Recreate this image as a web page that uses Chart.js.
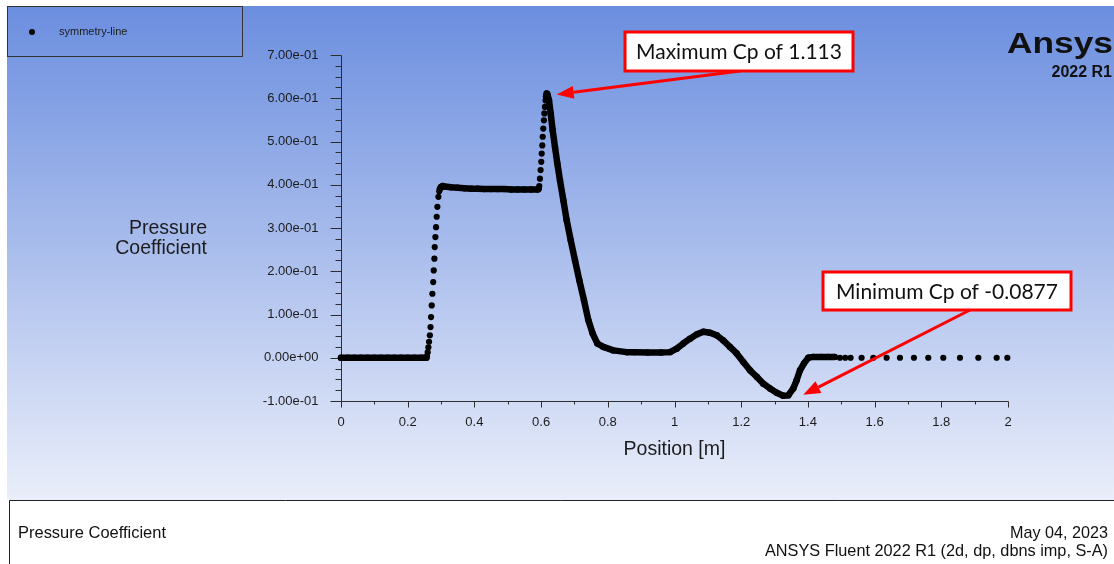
<!DOCTYPE html>
<html>
<head>
<meta charset="utf-8">
<title>Pressure Coefficient</title>
<script src="https://cdn.jsdelivr.net/npm/chart.js@4.4.1/dist/chart.umd.min.js"></script>
<style>
  html, body { margin: 0; padding: 0; background: #fff; }
  #graph { display: block; }
</style>
</head>
<body>
<canvas id="graph" width="1114" height="564"></canvas>
<script>
const ctx = document.getElementById('graph');

// symmetry-line samples: position [m] and Cp
// dense stretches (drawn as a thick run of dots)
const upstreamX = [0, 0.02, 0.04, 0.06, 0.08, 0.10, 0.12, 0.14, 0.16, 0.18, 0.20, 0.22, 0.24, 0.25, 0.256];
const upstreamCp = [0, 0, 0, 0, 0, 0, 0, 0, 0, 0, 0, 0, 0, 0, 0];

const plateauX = [0.297, 0.300, 0.305, 0.31, 0.33, 0.35, 0.37, 0.39, 0.41, 0.43, 0.45, 0.47, 0.49, 0.51, 0.53, 0.55, 0.57, 0.59, 0.5925];
const plateauCp = [0.391, 0.395, 0.397, 0.396, 0.394, 0.393, 0.392, 0.391, 0.391, 0.390, 0.390, 0.390, 0.390, 0.389, 0.389, 0.389, 0.389, 0.389, 0.391];

const wakeX = [0.6150, 0.6168, 0.6190, 0.6237, 0.6287, 0.6347, 0.6417, 0.6487, 0.6567, 0.6667, 0.6767, 0.6887,
  0.7017, 0.7147, 0.7286, 0.7416, 0.7546, 0.7686, 0.7866, 0.8166, 0.8566, 0.88, 0.92, 0.96, 0.9865,
  1.0066, 1.0265, 1.0465, 1.0665, 1.0865, 1.1064, 1.1265, 1.1465, 1.1664, 1.1865, 1.2064, 1.2264,
  1.2465, 1.2664, 1.2864, 1.3064, 1.3262, 1.3412, 1.3562, 1.3662, 1.3763, 1.3883, 1.4012, 1.4162,
  1.44, 1.46, 1.48];
const wakeCp = [0.604, 0.611, 0.609, 0.595, 0.565, 0.526, 0.487, 0.449, 0.410, 0.364, 0.318, 0.272,
  0.225, 0.179, 0.133, 0.087, 0.056, 0.033, 0.025, 0.017, 0.013, 0.013, 0.012, 0.012, 0.013,
  0.021, 0.033, 0.044, 0.054, 0.060, 0.058, 0.052, 0.040, 0.025, 0.010, -0.010, -0.029,
  -0.044, -0.060, -0.071, -0.081, -0.088, -0.087, -0.071, -0.052, -0.029, -0.013, 0.000, 0.002,
  0.002, 0.002, 0.002];

// sparse stretches (separate dots): the two steep rises and the coarse outlet cells
const riseX = [0.258, 0.260, 0.262, 0.264, 0.2665, 0.2685, 0.270, 0.272, 0.274, 0.2765, 0.278, 0.280, 0.281,
  0.283, 0.285, 0.287, 0.289, 0.292, 0.2945,
  0.5945, 0.5965, 0.5985, 0.6005, 0.6018, 0.6035, 0.6048, 0.6065, 0.6085, 0.6098, 0.6115, 0.6135];
const riseCp = [0.004, 0.013, 0.024, 0.037, 0.052, 0.071, 0.094, 0.121, 0.148, 0.175, 0.202, 0.229, 0.256,
  0.279, 0.302, 0.326, 0.349, 0.372, 0.385,
  0.397, 0.414, 0.434, 0.453, 0.472, 0.491, 0.511, 0.530, 0.549, 0.565, 0.580, 0.595];

const tailX = [1.496, 1.512, 1.528, 1.561, 1.596, 1.636, 1.676, 1.718, 1.761, 1.806, 1.856, 1.911, 1.966, 1.998];
const tailCp = [0, 0, 0, 0, 0, 0, 0, 0, 0, 0, 0, 0, 0, 0];

const xTickValues = [0, 0.2, 0.4, 0.6, 0.8, 1, 1.2, 1.4, 1.6, 1.8, 2];
const xTickLabels = ['0', '0.2', '0.4', '0.6', '0.8', '1', '1.2', '1.4', '1.6', '1.8', '2'];
const yTickValues = [-0.1, 0, 0.1, 0.2, 0.3, 0.4, 0.5, 0.6, 0.7];
const yTickLabels = ['-1.00e-01', '0.00e+00', '1.00e-01', '2.00e-01', '3.00e-01', '4.00e-01', '5.00e-01', '6.00e-01', '7.00e-01'];

const FONT = '"Liberation Sans", Arial, sans-serif';
const INK = '#1c1c1c';

function toXY(xs, ys) {
  return xs.map((x, i) => ({ x: x, y: ys[i] }));
}

function crisp(v) {
  return Math.round(v) + 0.5;
}

function denseRun(xs, ys) {
  return {
    data: toXY(xs, ys),
    showLine: true,
    borderColor: '#000',
    borderWidth: 6.5,
    borderCapStyle: 'round',
    borderJoinStyle: 'round',
    pointRadius: 3.2,
    pointBackgroundColor: '#000',
    pointBorderWidth: 0,
    clip: false
  };
}

function sparseDots(xs, ys) {
  return {
    data: toXY(xs, ys),
    showLine: false,
    pointRadius: 3.1,
    pointBackgroundColor: '#000',
    pointBorderWidth: 0,
    clip: false
  };
}

function drawArrow(c, x0, y0, x1, y1) {
  const a = Math.atan2(y1 - y0, x1 - x0);
  const len = 17, half = 6.5;
  const bx = x1 - len * Math.cos(a), by = y1 - len * Math.sin(a);
  c.strokeStyle = '#ff0000';
  c.fillStyle = '#ff0000';
  c.lineWidth = 3;
  c.beginPath();
  c.moveTo(x0, y0);
  c.lineTo(bx, by);
  c.stroke();
  c.beginPath();
  c.moveTo(x1, y1);
  c.lineTo(bx + half * Math.sin(a), by - half * Math.cos(a));
  c.lineTo(bx - half * Math.sin(a), by + half * Math.cos(a));
  c.closePath();
  c.fill();
}

function callout(c, x, y, w, h, text) {
  c.fillStyle = '#fff';
  c.fillRect(x, y, w, h);
  c.strokeStyle = '#ff0000';
  c.lineWidth = 3;
  c.strokeRect(x, y, w, h);
  c.fillStyle = '#111';
  c.font = '21px Lato, "Open Sans", sans-serif';
  c.textAlign = 'center';
  c.textBaseline = 'middle';
  c.fillText(text, x + w / 2, y + h / 2 + 1, w - 20);
}

const fluentFrame = {
  id: 'fluentFrame',
  beforeDraw(chart) {
    const c = chart.ctx;
    c.save();
    c.fillStyle = '#fff';
    c.fillRect(0, 0, chart.width, chart.height);
    const g = c.createLinearGradient(0, 6, 0, 500);
    g.addColorStop(0, '#6b8edf');
    g.addColorStop(1, '#eaeefa');
    c.fillStyle = g;
    c.fillRect(7, 6, chart.width - 7, 494);
    c.restore();
  },
  beforeDatasetsDraw(chart) {
    const c = chart.ctx;
    const xs = chart.scales.x, ys = chart.scales.y;
    const left = crisp(xs.getPixelForValue(xTickValues[0]));
    const right = crisp(xs.getPixelForValue(xTickValues[xTickValues.length - 1]));
    const bottom = crisp(ys.getPixelForValue(yTickValues[0]));
    const top = crisp(ys.getPixelForValue(yTickValues[yTickValues.length - 1]));
    c.save();
    c.strokeStyle = '#2e2e2e';
    c.lineWidth = 1;
    c.beginPath();
    c.moveTo(left, top);
    c.lineTo(left, bottom);
    c.lineTo(right, bottom);
    // y ticks: majors plus three minors in each gap
    yTickValues.forEach((v, i) => {
      const py = crisp(ys.getPixelForValue(v));
      c.moveTo(left - 11, py);
      c.lineTo(left, py);
      if (i < yTickValues.length - 1) {
        const step = (yTickValues[i + 1] - v) / 4;
        for (let k = 1; k < 4; k++) {
          const my = crisp(ys.getPixelForValue(v + step * k));
          c.moveTo(left - 6, my);
          c.lineTo(left, my);
        }
      }
    });
    // x ticks: majors plus one minor in each gap
    xTickValues.forEach((v, i) => {
      const px = crisp(xs.getPixelForValue(v));
      c.moveTo(px, bottom);
      c.lineTo(px, bottom + 6);
      if (i < xTickValues.length - 1) {
        const mx = crisp(xs.getPixelForValue((v + xTickValues[i + 1]) / 2));
        c.moveTo(mx, bottom);
        c.lineTo(mx, bottom + 3);
      }
    });
    c.stroke();

    c.fillStyle = INK;
    c.font = '13px ' + FONT;
    c.textAlign = 'right';
    c.textBaseline = 'middle';
    yTickValues.forEach((v, i) => {
      c.fillText(yTickLabels[i], left - 23, ys.getPixelForValue(v));
    });
    c.textAlign = 'center';
    xTickValues.forEach((v, i) => {
      c.fillText(xTickLabels[i], xs.getPixelForValue(v), bottom + 21);
    });

    c.font = '19.5px ' + FONT;
    c.textAlign = 'right';
    c.fillText('Pressure', 207, 229);
    c.fillText('Coefficient', 207, 249);
    c.textAlign = 'center';
    c.fillText('Position [m]', (xs.left + xs.right) / 2, 450);

    // legend box
    c.strokeStyle = '#333';
    c.strokeRect(7.5, 6.5, 235, 50);
    c.fillStyle = '#000';
    c.beginPath();
    c.arc(32, 32, 3, 0, Math.PI * 2);
    c.fill();
    c.fillStyle = INK;
    c.font = '11px ' + FONT;
    c.textAlign = 'left';
    c.fillText('symmetry-line', 59, 32);
    c.restore();
  },
  afterDraw(chart) {
    const c = chart.ctx;
    const xs = chart.scales.x, ys = chart.scales.y;
    c.save();

    // callouts pointing at the extreme values
    const iMax = wakeCp.indexOf(Math.max(...wakeCp));
    const iMin = wakeCp.indexOf(Math.min(...wakeCp));
    const maxPx = xs.getPixelForValue(wakeX[iMax]), maxPy = ys.getPixelForValue(wakeCp[iMax]);
    const minPx = xs.getPixelForValue(wakeX[iMin]), minPy = ys.getPixelForValue(wakeCp[iMin]);
    drawArrow(c, 740, 71, maxPx + 10, maxPy + 1);
    drawArrow(c, 970, 310, minPx + 20, minPy - 1);
    callout(c, 625, 32, 228, 39, 'Maximum Cp of 1.113');
    callout(c, 823, 272, 248, 38, 'Minimum Cp of -0.0877');

    // logo
    c.fillStyle = '#111';
    c.textBaseline = 'alphabetic';
    c.textAlign = 'right';
    c.font = 'bold 29px ' + FONT;
    const w = c.measureText('Ansys').width;
    c.save();
    c.translate(1113, 53);
    c.scale(106 / w, 1);
    c.fillText('Ansys', 0, 0);
    c.restore();
    c.font = 'bold 16px ' + FONT;
    c.fillText('2022 R1', 1112, 77);

    // footer panel
    c.fillStyle = '#fff';
    c.fillRect(9, 500, chart.width - 9, chart.height - 500);
    c.strokeStyle = '#222';
    c.lineWidth = 1;
    c.beginPath();
    c.moveTo(9.5, chart.height);
    c.lineTo(9.5, 500.5);
    c.lineTo(chart.width, 500.5);
    c.stroke();
    c.fillStyle = '#111';
    c.font = '17px ' + FONT;
    c.textBaseline = 'middle';
    c.textAlign = 'left';
    c.fillText('Pressure Coefficient', 18, 533, 148);
    c.textAlign = 'right';
    c.fillText('May 04, 2023', 1108, 533, 98);
    c.fillText('ANSYS Fluent 2022 R1 (2d, dp, dbns imp, S-A)', 1108, 551, 343);
    c.restore();
  }
};

const xyChart = new Chart(ctx, {
  type: 'scatter',
  data: {
    datasets: [
      denseRun(upstreamX, upstreamCp),
      denseRun(plateauX, plateauCp),
      denseRun(wakeX, wakeCp),
      sparseDots(riseX, riseCp),
      sparseDots(tailX, tailCp)
    ]
  },
  options: {
    responsive: false,
    animation: false,
    devicePixelRatio: 1,
    layout: {
      padding: { left: 341, right: 106, top: 55, bottom: 163 }
    },
    plugins: {
      legend: { display: false },
      tooltip: { enabled: false }
    },
    scales: {
      x: { type: 'linear', min: 0, max: 2, display: false },
      y: { type: 'linear', min: -0.1, max: 0.7, display: false }
    }
  },
  plugins: [fluentFrame]
});
</script>
</body>
</html>
